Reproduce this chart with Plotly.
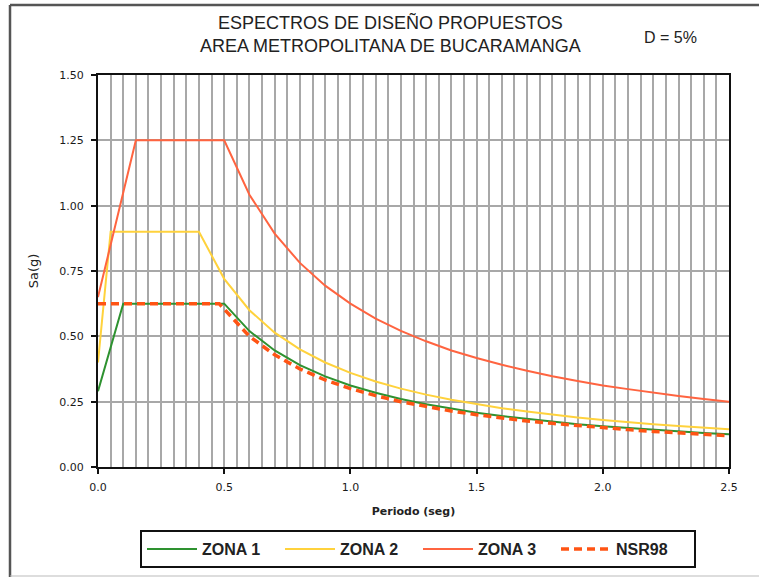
import plotly.graph_objects as go

# ---- data ----
t_z1 = [0.0, 0.1, 0.5, 0.6, 0.7, 0.8, 0.9, 1.0, 1.1, 1.2, 1.3, 1.4, 1.5,
        1.6, 1.7, 1.8, 1.9, 2.0, 2.1, 2.2, 2.3, 2.4, 2.5]
sa_z1 = [0.29, 0.625, 0.625, 0.52, 0.446, 0.39, 0.347, 0.312, 0.284, 0.26, 0.24,
         0.223, 0.208, 0.195, 0.184, 0.174, 0.164, 0.156, 0.149, 0.142, 0.136, 0.13, 0.125]

t_z2 = [0.0, 0.05, 0.4, 0.5, 0.6, 0.7, 0.8, 0.9, 1.0, 1.1, 1.2, 1.3, 1.4, 1.5,
        1.6, 1.7, 1.8, 1.9, 2.0, 2.1, 2.2, 2.3, 2.4, 2.5]
sa_z2 = [0.40, 0.90, 0.90, 0.72, 0.60, 0.514, 0.45, 0.40, 0.36, 0.327, 0.30, 0.277,
         0.257, 0.24, 0.225, 0.212, 0.20, 0.189, 0.18, 0.171, 0.164, 0.157, 0.15, 0.144]

t_z3 = [0.0, 0.15, 0.5, 0.6, 0.7, 0.8, 0.9, 1.0, 1.1, 1.2, 1.3, 1.4, 1.5,
        1.6, 1.7, 1.8, 1.9, 2.0, 2.1, 2.2, 2.3, 2.4, 2.5]
sa_z3 = [0.65, 1.25, 1.25, 1.042, 0.893, 0.781, 0.694, 0.625, 0.568, 0.521, 0.481,
         0.446, 0.417, 0.391, 0.368, 0.347, 0.329, 0.312, 0.298, 0.284, 0.272, 0.26, 0.25]

t_nsr = [0.0, 0.48, 0.6, 0.7, 0.8, 0.9, 1.0, 1.1, 1.2, 1.3, 1.4, 1.5,
         1.6, 1.7, 1.8, 1.9, 2.0, 2.1, 2.2, 2.3, 2.4, 2.5]
sa_nsr = [0.625, 0.625, 0.50, 0.429, 0.375, 0.333, 0.30, 0.273, 0.25, 0.231, 0.214,
          0.20, 0.1875, 0.176, 0.167, 0.158, 0.15, 0.143, 0.136, 0.13, 0.125, 0.12]

series_names = ["ZONA 1", "ZONA 2", "ZONA 3", "NSR98"]
y_ticks = [0.0, 0.25, 0.5, 0.75, 1.0, 1.25, 1.5]
x_ticks = [0.0, 0.5, 1.0, 1.5, 2.0, 2.5]

# ---- layout geometry (pixels) ----
W, H = 759, 577
L, R, T, B = 98, 729, 75, 467
pw, ph = R - L, B - T


def px(x):
    return (x - L) / pw


def py(y):
    return (B - y) / ph


fig = go.Figure()
fig.add_trace(go.Scatter(x=t_z1, y=sa_z1, mode="lines", name=series_names[0],
                         line=dict(color="#2E9230", width=2)))
fig.add_trace(go.Scatter(x=t_z2, y=sa_z2, mode="lines", name=series_names[1],
                         line=dict(color="#FFD23C", width=2)))
fig.add_trace(go.Scatter(x=t_z3, y=sa_z3, mode="lines", name=series_names[2],
                         line=dict(color="#FF6440", width=2)))
fig.add_trace(go.Scatter(x=t_nsr, y=sa_nsr, mode="lines", name=series_names[3],
                         line=dict(color="#FF5414", width=3.5, dash="8px,5px")))

tick_font = dict(family="DejaVu Sans", size=11, color="#1a1a1a")
grid_col = "#a8a8a8"

fig.update_xaxes(range=[0, 2.5], tickvals=x_ticks, ticktext=[f"{v:.1f}" for v in x_ticks],
                 showline=True, linecolor="#111111", linewidth=2, mirror=True,
                 ticks="outside", ticklen=5, tickcolor="#111111", tickwidth=1.5,
                 ticklabelstandoff=4,
                 showgrid=True, gridcolor=grid_col, gridwidth=1.5,
                 minor=dict(dtick=0.05, tick0=0, showgrid=True, gridcolor=grid_col, gridwidth=1.5),
                 tickfont=tick_font, zeroline=False,
                 title=dict(text="<b>Periodo (seg)</b>", standoff=14,
                            font=dict(family="DejaVu Sans", size=11, color="#222222")))
fig.update_yaxes(range=[0, 1.5], tickvals=y_ticks, ticktext=[f"{v:.2f}" for v in y_ticks],
                 showline=True, linecolor="#111111", linewidth=2, mirror=True,
                 ticks="outside", ticklen=5, tickcolor="#111111", tickwidth=1.5,
                 ticklabelstandoff=5,
                 showgrid=True, gridcolor=grid_col, gridwidth=1.5,
                 tickfont=tick_font, zeroline=False,
                 title=dict(text="Sa(g)", standoff=18,
                            font=dict(family="DejaVu Sans", size=13, color="#222222")))

fig.update_layout(
    width=W, height=H, autosize=False,
    margin=dict(l=L, r=W - R, t=T, b=H - B, autoexpand=False),
    paper_bgcolor="white", plot_bgcolor="white",
    showlegend=True,
    legend=dict(orientation="h", x=px(140), y=py(530), xanchor="left", yanchor="top",
                bordercolor="#111111", borderwidth=2, bgcolor="white",
                entrywidth=73, entrywidthmode="pixels", itemwidth=50,
                font=dict(family="Liberation Sans", size=16, color="#222222", weight="bold"),
                traceorder="normal"),
    annotations=[
        dict(text="ESPECTROS DE DISEÑO PROPUESTOS<br>AREA METROPOLITANA DE BUCARAMANGA",
             xref="paper", yref="paper", x=px(390), y=py(10), xanchor="center", yanchor="top",
             showarrow=False, font=dict(family="Liberation Sans", size=18, color="#222222")),
        dict(text="D = 5%", xref="paper", yref="paper", x=px(670), y=py(37),
             xanchor="center", yanchor="middle", showarrow=False,
             font=dict(family="Liberation Sans", size=16, color="#222222")),
    ],
    shapes=[
        dict(type="line", xref="paper", yref="paper", x0=px(10), x1=px(10), y0=py(577), y1=py(5),
             line=dict(color="#555555", width=2.5)),
        dict(type="line", xref="paper", yref="paper", x0=px(10), x1=px(759), y0=py(5), y1=py(5),
             line=dict(color="#555555", width=2.5)),
        dict(type="line", xref="paper", yref="paper", x0=px(10), x1=px(759), y0=py(576), y1=py(576),
             line=dict(color="#bbbbbb", width=1)),
    ],
)

fig.write_html("out.html", config={"displayModeBar": False},
               post_script="document.body.style.margin='0';document.body.style.overflow='hidden';")
